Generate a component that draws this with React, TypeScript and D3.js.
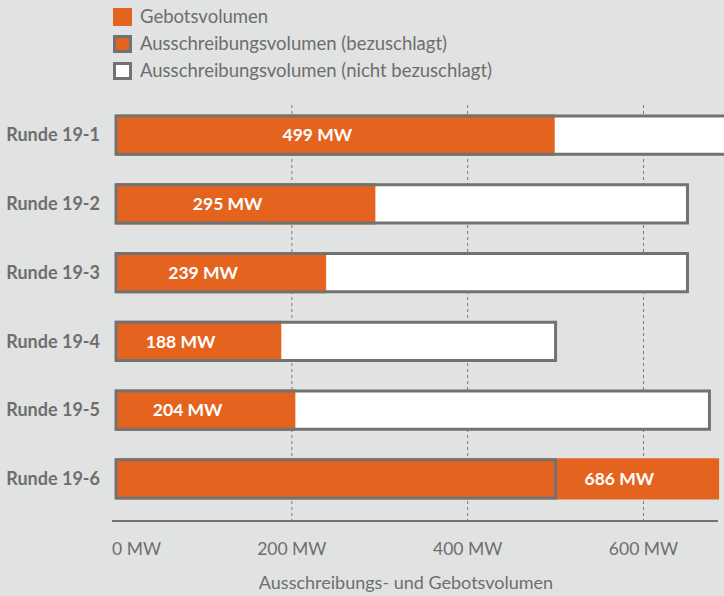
import { useEffect } from "react";
import * as d3 from "d3";

const ROUNDS = ["Runde 19-1", "Runde 19-2", "Runde 19-3", "Runde 19-4", "Runde 19-5", "Runde 19-6"];
const TENDER_MW = [700, 650, 650, 500, 675, 500];
const BID_MW = [499, 295, 239, 188, 204, 686];
const TICKS_MW = [0, 200, 400, 600];
const LEGEND = [
  "Gebotsvolumen",
  "Ausschreibungsvolumen (bezuschlagt)",
  "Ausschreibungsvolumen (nicht bezuschlagt)",
];

const W = 724;
const H = 596;
const ORANGE = "#e4641f";
const GREY = "#727272";
const TEXT = "#6e6e6e";
const BG = "#e1e2e2";
const FONT = "Lato, 'Open Sans', sans-serif";

export default function App() {
  useEffect(() => {
    document.body.style.margin = "0";
  }, []);

  const x = d3.scaleLinear().domain([0, 600]).range([116, 643.5]);
  const y = d3.scaleBand<string>().domain(ROUNDS).range([87, 527]).padding(0.4);
  const bw = y.bandwidth();
  const axisY = 521;

  return (
    <svg width={W} height={H} style={{ display: "block", fontFamily: FONT }}>
      <rect width={W} height={H} fill={BG} />

      {/* legend */}
      {LEGEND.map((label, i) => {
        const cy = 17 + i * 27;
        return (
          <g key={label}>
            {i === 0 ? (
              <rect x={113} y={cy - 9} width={19} height={18} fill={ORANGE} />
            ) : (
              <rect
                x={114.5}
                y={cy - 7.5}
                width={16}
                height={15}
                fill={i === 1 ? ORANGE : "#fff"}
                stroke={GREY}
                strokeWidth={3}
              />
            )}
            <text x={140} y={cy} dy="0.35em" fontSize={18.5} fill={TEXT}>
              {label}
            </text>
          </g>
        );
      })}

      {/* grid */}
      {TICKS_MW.filter((t) => t > 0).map((t) => (
        <line
          key={t}
          x1={x(t)}
          x2={x(t)}
          y1={105}
          y2={axisY}
          stroke="#7a7a7a"
          strokeWidth={1}
          strokeDasharray="3,3"
        />
      ))}

      {/* bars */}
      {ROUNDS.map((r, i) => {
        const top = y(r)!;
        const tender = TENDER_MW[i];
        const bid = BID_MW[i];
        const labelX =
          bid > tender
            ? (x(tender) + x(bid)) / 2 - 18
            : (x(0) + x(bid)) / 2 - 18;
        return (
          <g key={r}>
            <rect x={x(0)} y={top + 1.5} width={x(tender) - x(0)} height={bw - 3} fill="#fff" />
            <rect x={x(0)} y={top} width={x(bid) - x(0)} height={bw} fill={ORANGE} />
            <rect
              x={x(0)}
              y={top + 1.5}
              width={x(tender) - x(0)}
              height={bw - 3}
              fill="none"
              stroke={GREY}
              strokeWidth={3}
            />
            <text
              x={labelX}
              y={top + bw / 2}
              dy="0.35em"
              textAnchor="middle"
              fontSize={17.5}
              fontWeight="bold"
              fill="#fff"
            >
              {bid} MW
            </text>
            <text
              x={100}
              y={top + bw / 2}
              dy="0.35em"
              textAnchor="end"
              fontSize={18}
              fontWeight="bold"
              fill={TEXT}
            >
              {r}
            </text>
          </g>
        );
      })}

      {/* axis */}
      <line x1={112} x2={718} y1={axisY} y2={axisY} stroke={GREY} strokeWidth={2} />
      {TICKS_MW.map((t, i) => (
        <text
          key={t}
          x={i === 0 ? x(t) - 4 : x(t)}
          y={549}
          dy="0.35em"
          textAnchor={i === 0 ? "start" : "middle"}
          fontSize={17.5}
          fill={TEXT}
        >
          {t} MW
        </text>
      ))}
      <text x={406} y={583} dy="0.35em" textAnchor="middle" fontSize={18} fill={TEXT}>
        Ausschreibungs- und Gebotsvolumen
      </text>
    </svg>
  );
}
